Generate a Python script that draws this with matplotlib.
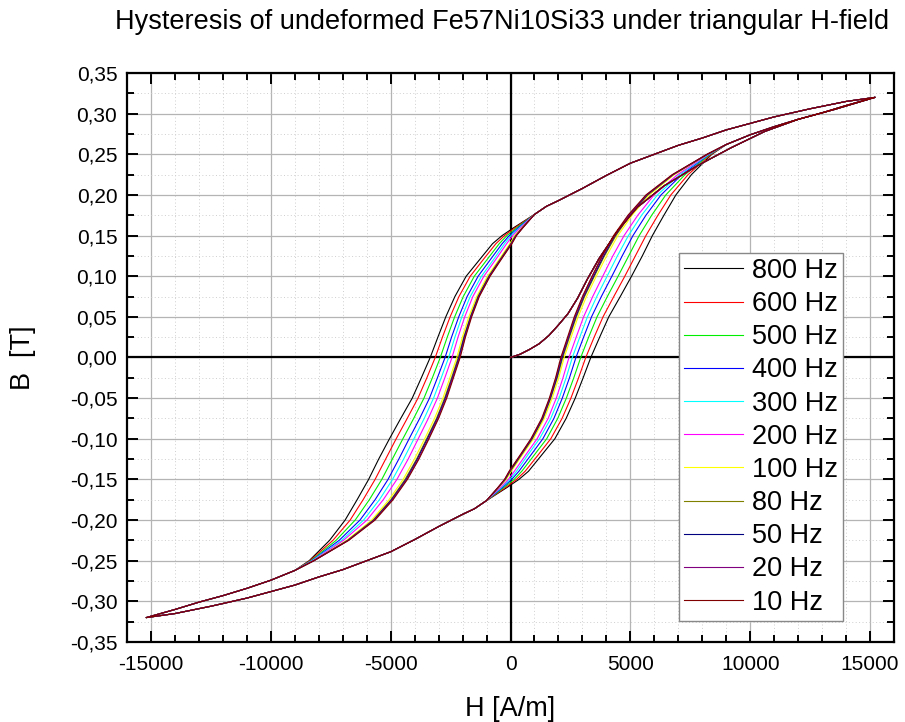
import matplotlib
matplotlib.use("Agg")
import matplotlib.pyplot as plt
import numpy as np
from matplotlib.ticker import MultipleLocator, FuncFormatter

plt.rcParams['font.family'] = ['Liberation Sans', 'DejaVu Sans']

# ---------------- data ----------------
FREQS = ["800 Hz", "600 Hz", "500 Hz", "400 Hz", "300 Hz", "200 Hz",
         "100 Hz", "80 Hz", "50 Hz", "20 Hz", "10 Hz"]
COLORS = ["#000000", "#FF0000", "#00EE00", "#0000FF", "#00FFFF", "#FF00FF",
          "#FFFF00", "#808000", "#000080", "#800080", "#800000"]

# initial magnetisation curve (A/m, T)
INIT_H = [0, 400, 800, 1200, 1600, 2000, 2400, 2800, 3200, 3700, 4500, 5300,
          6400, 7800, 9200, 10600, 12000, 13500, 15200]
INIT_B = [0.0, 0.004, 0.010, 0.017, 0.027, 0.040, 0.054, 0.073, 0.096, 0.122,
          0.157, 0.185, 0.211, 0.236, 0.258, 0.278, 0.293, 0.305, 0.320]

# descending branch, upper part shared by all frequencies
UPPER_H = [15200, 14000, 12500, 11000, 10000, 9000, 8000, 7000, 6000, 5000,
           4000, 3000, 2000, 1500, 1000]
UPPER_B = [0.320, 0.315, 0.306, 0.296, 0.288, 0.280, 0.270, 0.261, 0.250,
           0.239, 0.224, 0.208, 0.193, 0.186, 0.176]

# descending branch, steep part: H (kA/m) at these B levels, per frequency
MID_B = [0.16, 0.15, 0.14, 0.12, 0.10, 0.075, 0.05, 0.025, 0.0, -0.025, -0.05,
         -0.075, -0.10, -0.125, -0.15, -0.175, -0.20, -0.225, -0.25]
MID_H_800 = [0.15, -0.35, -0.75, -1.30, -1.85, -2.32, -2.70, -3.03, -3.35, -3.72, -4.10,
             -4.58, -5.05, -5.50, -5.92, -6.40, -6.90, -7.55, -8.40]
MID_H_600 = [0.21, -0.25, -0.61, -1.15, -1.68, -2.15, -2.52, -2.84, -3.14, -3.49, -3.86,
             -4.31, -4.77, -5.21, -5.65, -6.15, -6.69, -7.41, -8.37]
MID_H_500 = [0.28, -0.15, -0.47, -0.99, -1.51, -1.97, -2.33, -2.64, -2.93, -3.26, -3.61,
             -4.04, -4.49, -4.93, -5.37, -5.89, -6.48, -7.28, -8.33]
MID_H_400 = [0.34, -0.05, -0.35, -0.85, -1.35, -1.81, -2.16, -2.46, -2.73, -3.05, -3.38,
             -3.79, -4.23, -4.66, -5.11, -5.65, -6.28, -7.15, -8.30]
MID_H_300 = [0.39, 0.02, -0.25, -0.72, -1.21, -1.68, -2.03, -2.32, -2.58, -2.89, -3.21,
             -3.60, -4.03, -4.46, -4.92, -5.47, -6.13, -7.05, -8.28]
MID_H_200 = [0.43, 0.09, -0.16, -0.63, -1.11, -1.57, -1.91, -2.19, -2.44, -2.74, -3.05,
             -3.43, -3.85, -4.27, -4.74, -5.31, -5.99, -6.97, -8.25]
MID_H_100 = [0.49, 0.18, -0.03, -0.49, -0.96, -1.41, -1.74, -2.01, -2.24, -2.53, -2.82,
             -3.17, -3.58, -4.01, -4.48, -5.07, -5.79, -6.84, -8.22]
MID_H_80 = [0.51, 0.21, 0.01, -0.45, -0.91, -1.36, -1.68, -1.95, -2.18, -2.46, -2.75,
            -3.09, -3.50, -3.92, -4.40, -4.99, -5.73, -6.80, -8.21]
MID_H_50 = [0.51, 0.23, 0.03, -0.43, -0.89, -1.34, -1.66, -1.93, -2.15, -2.43, -2.72,
            -3.06, -3.47, -3.89, -4.36, -4.96, -5.70, -6.78, -8.21]
MID_H_20 = [0.52, 0.24, 0.04, -0.42, -0.87, -1.32, -1.64, -1.90, -2.12, -2.41, -2.69,
            -3.03, -3.43, -3.85, -4.33, -4.93, -5.68, -6.77, -8.20]
MID_H_10 = [0.53, 0.25, 0.06, -0.40, -0.85, -1.30, -1.62, -1.88, -2.10, -2.38, -2.66,
            -3.00, -3.40, -3.82, -4.30, -4.90, -5.65, -6.75, -8.20]

# descending branch, lower part shared by all frequencies
LOWER_H = [-9000, -10000, -11000, -12000, -13000, -14000, -15200]
LOWER_B = [-0.262, -0.274, -0.284, -0.293, -0.301, -0.310, -0.320]

MID_H = [MID_H_800, MID_H_600, MID_H_500, MID_H_400, MID_H_300, MID_H_200,
         MID_H_100, MID_H_80, MID_H_50, MID_H_20, MID_H_10]

X_TICKS = [-15000, -10000, -5000, 0, 5000, 10000, 15000]
Y_TICKS = [-0.35, -0.30, -0.25, -0.20, -0.15, -0.10, -0.05, 0.0,
           0.05, 0.10, 0.15, 0.20, 0.25, 0.30, 0.35]

# ---------------- figure ----------------
fig = plt.figure(figsize=(9.05, 7.22), dpi=100)
ax = fig.add_axes([127 / 905, 1 - 642 / 722, 767 / 905, 569 / 722])

ax.set_xlim(-16000, 16000)
ax.set_ylim(-0.35, 0.35)

ax.xaxis.set_minor_locator(MultipleLocator(1000))
ax.yaxis.set_minor_locator(MultipleLocator(0.025))
ax.set_xticks(X_TICKS)
ax.set_yticks(Y_TICKS)
ax.yaxis.set_major_formatter(FuncFormatter(
    lambda v, p: f"{v:.2f}".replace('.', ',').replace('-0,00', '0,00')))
ax.xaxis.set_major_formatter(FuncFormatter(lambda v, p: f"{int(round(v))}"))

ax.grid(which='major', color='#b4b4b4', lw=0.9, ls='-', zorder=0)
ax.grid(which='minor', color='#cfcfcf', lw=0.7, ls=(0, (1, 2.5)), zorder=0)
ax.set_axisbelow(True)

ax.axhline(0, color='black', lw=1.6, zorder=1)
ax.axvline(0, color='black', lw=1.6, zorder=1)

for lab, col, mid in zip(FREQS, COLORS, MID_H):
    desc_h = np.concatenate([UPPER_H, np.array(mid) * 1000.0, LOWER_H])
    desc_b = np.concatenate([UPPER_B, MID_B, LOWER_B])
    # ascending branch: point reflection of the descending branch
    asc_h = -desc_h
    asc_b = -desc_b
    h = np.concatenate([INIT_H, desc_h[1:], asc_h[1:]])
    b = np.concatenate([INIT_B, desc_b[1:], asc_b[1:]])
    ax.plot(h, b, color=col, lw=0.8, label=lab, zorder=3)

for side in ['top', 'bottom', 'left', 'right']:
    ax.spines[side].set_linewidth(1.6)
ax.tick_params(which='both', direction='in', top=True, right=True,
               width=1.4, labelsize=15)
ax.tick_params(which='major', length=8)
ax.tick_params(which='minor', length=5)
ax.tick_params(axis='y', pad=7)
ax.tick_params(axis='x', pad=9)

ax.set_xlabel("H [A/m]", fontsize=19.5, labelpad=16)
ax.set_ylabel("B  [T]", fontsize=19.5, labelpad=24)

leg = ax.legend(loc='upper left', bbox_to_anchor=((679 - 127) / 767, (642 - 253) / 569),
                borderaxespad=0, fontsize=19.5, frameon=True, fancybox=False,
                framealpha=1, edgecolor='#888888', handlelength=2.2,
                handletextpad=0.33, labelspacing=0.265, borderpad=0.18)
leg.get_frame().set_linewidth(1.0)

fig.text(0.982, 1 - 22 / 722, "Hysteresis of undeformed Fe57Ni10Si33 under triangular H-field",
         ha='right', va='center', fontsize=19.5)

fig.savefig("out.png", dpi=100)
